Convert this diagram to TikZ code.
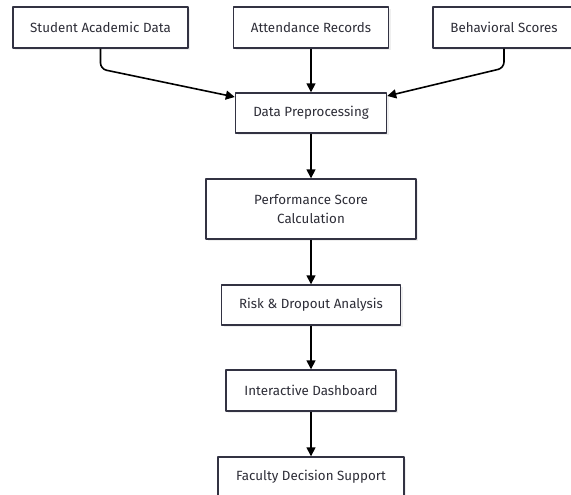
\documentclass[tikz,border=0pt]{standalone}
\usepackage{fontspec}
\setmainfont{Fira Sans}
\usepackage{tikz}
\usetikzlibrary{arrows.meta,calc,shadows}
\definecolor{boxline}{RGB}{50,50,66}
\definecolor{boxtext}{RGB}{45,45,55}

\begin{document}
\begin{tikzpicture}[>={Triangle[length=9bp,width=9bp]},line join=bevel,
  box/.style={draw=boxline,line width=1.4bp,fill=white,text=boxtext,align=center,
    inner sep=0pt,font=\fontsize{13.4}{19}\selectfont,
    drop shadow={shadow xshift=2bp,shadow yshift=-2bp,fill=black!10,opacity=0.6}},
  flow/.style={black,line width=1.6bp,->}]
\useasboundingbox (0bp,0bp) rectangle (571bp,495bp);
%%
\node (node_sad) at (100.5bp,467.5bp) [box,minimum width=175bp,minimum height=41bp] {Student Academic Data};
  \node (node_att) at (311bp,467.5bp) [box,minimum width=155bp,minimum height=41bp] {Attendance Records};
  \node (node_beh) at (504bp,467.5bp) [box,minimum width=142bp,minimum height=41bp] {Behavioral Scores};
  \node (node_pre) at (311bp,382bp) [box,minimum width=151bp,minimum height=40bp] {Data Preprocessing};
  \node (node_psc) at (311bp,286bp) [box,minimum width=210bp,minimum height=60bp] {Performance Score\\Calculation};
  \node (node_risk) at (311bp,190bp) [box,minimum width=179bp,minimum height=40bp] {Risk \& Dropout Analysis};
  \node (node_dash) at (311bp,104.5bp) [box,minimum width=170bp,minimum height=41bp] {Interactive Dashboard};
  \node (node_fac) at (311bp,18bp) [box,minimum width=186bp,minimum height=40bp] {Faculty Decision Support};
  \coordinate (in_left) at ($(node_pre.west)+(0bp,16bp)$);
  \coordinate (in_right) at ($(node_pre.east)+(0bp,17bp)$);
  \draw [flow,rounded corners=6bp] (node_sad.south) -- (100.5bp,426bp) -- (in_left);
  \draw [flow] (node_att) -- (node_pre);
  \draw [flow,rounded corners=6bp] (node_beh.south) -- (504bp,427bp) -- (in_right);
  \draw [flow] (node_pre) -- (node_psc);
  \draw [flow] (node_psc) -- (node_risk);
  \draw [flow] (node_risk) -- (node_dash);
  \draw [flow] (node_dash) -- (node_fac);
%
\end{tikzpicture}
\end{document}
